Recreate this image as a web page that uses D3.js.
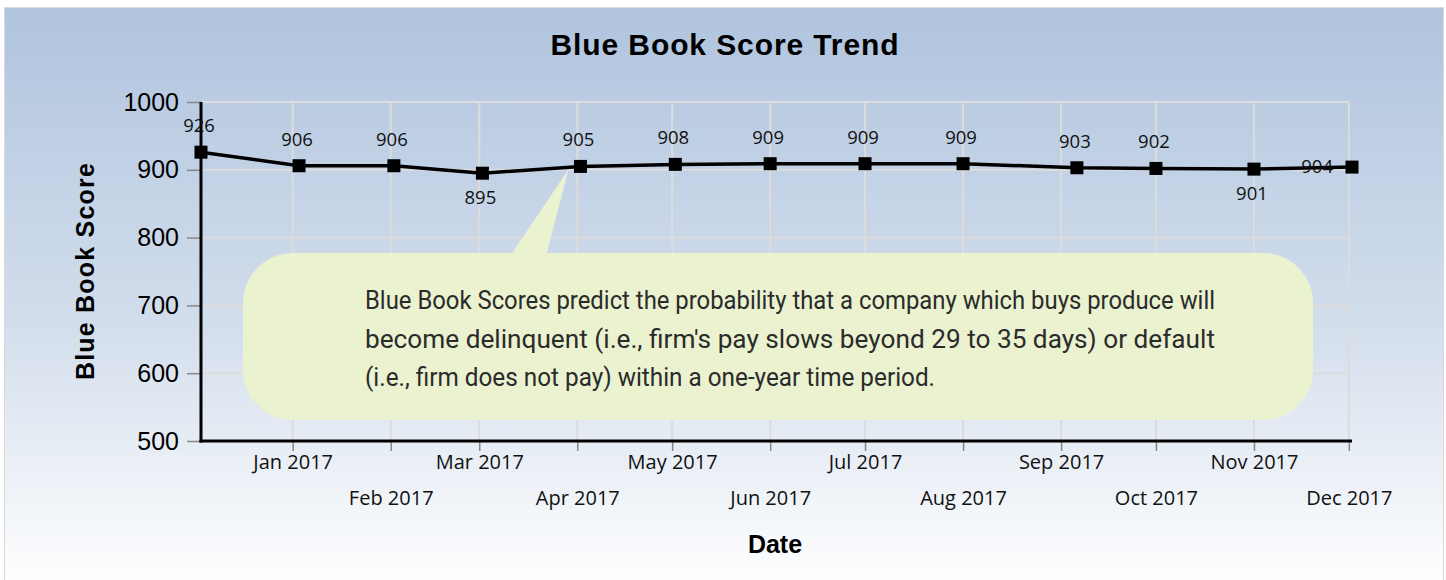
<!DOCTYPE html>
<html>
<head>
<meta charset="utf-8">
<script src="https://cdn.jsdelivr.net/npm/d3@7"></script>
<style>
  html, body { margin: 0; padding: 0; background: #fff; }
  svg { display: block; }
</style>
</head>
<body>
<svg id="chart" width="1446" height="580"></svg>
<script>
// ---- data ----
const dates = ["2016-12-03","2017-01-03","2017-02-02","2017-03-02","2017-04-02","2017-05-02","2017-06-01","2017-07-01","2017-08-01","2017-09-06","2017-10-01","2017-11-01","2017-12-02"];
const scores = [926, 906, 906, 895, 905, 908, 909, 909, 909, 903, 902, 901, 904];
const monthTicks = ["2017-01-01","2017-02-01","2017-03-01","2017-04-01","2017-05-01","2017-06-01","2017-07-01","2017-08-01","2017-09-01","2017-10-01","2017-11-01","2017-12-01"];
const monthLabels = ["Jan 2017","Feb 2017","Mar 2017","Apr 2017","May 2017","Jun 2017","Jul 2017","Aug 2017","Sep 2017","Oct 2017","Nov 2017","Dec 2017"];
const yTicks = [500, 600, 700, 800, 900, 1000];
const titleText = "Blue Book Score Trend";
const xTitle = "Date";
const yTitle = "Blue Book Score";
const noteLines = [
  "Blue Book Scores predict the probability that a company which buys produce will",
  "become delinquent (i.e., firm's pay slows beyond 29 to 35 days) or default",
  "(i.e., firm does not pay) within a one-year time period."
];

const parse = d3.utcParse("%Y-%m-%d");
const pts = dates.map((d, i) => ({ date: parse(d), v: scores[i], i }));
const ticks = monthTicks.map(parse);

const svg = d3.select("#chart");
const defs = svg.append("defs");
const grad = defs.append("linearGradient").attr("id", "bg").attr("x1", 0).attr("y1", 0).attr("x2", 0).attr("y2", 1);
grad.append("stop").attr("offset", "0%").attr("stop-color", "#b0c4de");
grad.append("stop").attr("offset", "55%").attr("stop-color", "#d3deec");
grad.append("stop").attr("offset", "100%").attr("stop-color", "#ffffff");

// frame
svg.append("rect").attr("x", 4.5).attr("y", 7.5).attr("width", 1439).attr("height", 580)
  .attr("fill", "url(#bg)").attr("stroke", "#d9d9d9").attr("stroke-width", 1);

const L = 201, R = 1352, T = 102, B = 441;
const x = d3.scaleUtc().domain([parse("2016-12-03"), parse("2017-12-02")]).range([L, R]);
const y = d3.scaleLinear().domain([500, 1000]).range([B, T]);

// grid
const grid = svg.append("g");
grid.selectAll("line.h").data(yTicks).join("line")
  .attr("x1", L).attr("x2", x(ticks[ticks.length - 1]) + 1)
  .attr("y1", d => y(d)).attr("y2", d => y(d))
  .attr("stroke", "#dcdcdc").attr("stroke-width", 2);
grid.selectAll("line.v").data(ticks).join("line")
  .attr("x1", d => x(d)).attr("x2", d => x(d))
  .attr("y1", T).attr("y2", B)
  .attr("stroke", "#dcdcdc").attr("stroke-width", 2);

// x axis
const xAxis = d3.axisBottom(x).tickValues(ticks).tickSize(10).tickFormat((d, i) => monthLabels[i]);
const gx = svg.append("g").attr("transform", `translate(0,${B})`).call(xAxis);
gx.select(".domain").remove();
gx.selectAll(".tick line").attr("stroke", "#888").attr("stroke-width", 1.5);
gx.selectAll(".tick text")
  .attr("font-family", "'Open Sans', sans-serif").attr("font-size", 20).attr("fill", "#111")
  .attr("y", (d, i) => i % 2 === 0 ? 14 : 50).attr("dy", "0.71em");

// y axis
const yAxis = d3.axisLeft(y).tickValues(yTicks).tickSize(14).tickPadding(8).tickFormat(d3.format("d"));
const gy = svg.append("g").attr("transform", `translate(${L},0)`).call(yAxis);
gy.select(".domain").remove();
gy.selectAll(".tick line").attr("stroke", "#888").attr("stroke-width", 1.5);
gy.selectAll(".tick text")
  .attr("font-family", "'Liberation Sans', Arial, sans-serif").attr("font-size", 25).attr("fill", "#000");

// axis lines
svg.append("line").attr("x1", L).attr("x2", L).attr("y1", T).attr("y2", B + 1.5)
  .attr("stroke", "#000").attr("stroke-width", 3);
svg.append("line").attr("x1", L - 1.5).attr("x2", R).attr("y1", B).attr("y2", B)
  .attr("stroke", "#000").attr("stroke-width", 3);

// line
const line = d3.line().x(d => x(d.date)).y(d => y(d.v));
svg.append("path").datum(pts).attr("d", line)
  .attr("fill", "none").attr("stroke", "#000").attr("stroke-width", 3.5);

// markers
svg.selectAll("rect.m").data(pts).join("rect")
  .attr("x", d => x(d.date) - 6.5).attr("y", d => y(d.v) - 6.5)
  .attr("width", 13).attr("height", 13).attr("fill", "#000");

// callout
const tipX = x(pts[4].date) - 12, tipY = y(pts[4].v) + 3;
svg.append("path")
  .attr("d", `M${510},${256} L${tipX},${tipY} L${546},${256} Z`)
  .attr("fill", "#eaf2d0");
svg.append("rect").attr("x", 243).attr("y", 253).attr("width", 1070).attr("height", 167)
  .attr("rx", 50).attr("ry", 50).attr("fill", "#eaf2d0");
const widths = [850, 850, 570];
svg.selectAll("text.note").data(noteLines).join("text")
  .attr("x", 365).attr("y", (d, i) => 309 + i * 38.5)
  .attr("font-family", "Roboto, 'Liberation Sans Narrow', sans-serif")
  .attr("font-size", 25).attr("fill", "#2b2b2b")
  .attr("textLength", (d, i) => widths[i]).attr("lengthAdjust", "spacingAndGlyphs")
  .text(d => d);

// data labels
function labelPlace(d) {
  const n = pts.length;
  if (d.i === n - 1) return "left";
  if (d.i > 0 && d.v < pts[d.i - 1].v && d.v < pts[d.i + 1].v) return "below";
  return "above";
}
svg.selectAll("text.dl").data(pts).join("text")
  .attr("font-family", "'Open Sans', sans-serif").attr("font-size", 18.5).attr("fill", "#111")
  .attr("text-anchor", d => labelPlace(d) === "left" ? "end" : "middle")
  .attr("x", d => labelPlace(d) === "left" ? x(d.date) - 19 : x(d.date) - 2)
  .attr("y", d => {
    const p = labelPlace(d);
    if (p === "left") return y(d.v) + 6;
    if (p === "below") return y(d.v) + 31;
    return y(d.v) - 20;
  })
  .text(d => d.v);

// titles
svg.append("text").attr("x", 725).attr("y", 55).attr("text-anchor", "middle")
  .attr("font-family", "'Liberation Sans', Arial, sans-serif").attr("font-weight", "bold")
  .attr("font-size", 30).attr("letter-spacing", 0.9).attr("fill", "#000").text(titleText);
svg.append("text").attr("x", 775).attr("y", 553).attr("text-anchor", "middle")
  .attr("font-family", "'Liberation Sans', Arial, sans-serif").attr("font-weight", "bold")
  .attr("font-size", 25).attr("fill", "#000").text(xTitle);
svg.append("text").attr("transform", "translate(94,271) rotate(-90)").attr("text-anchor", "middle")
  .attr("font-family", "'Liberation Sans', Arial, sans-serif").attr("font-weight", "bold")
  .attr("font-size", 25).attr("letter-spacing", 1.2).attr("fill", "#000").text(yTitle);
</script>
</body>
</html>
